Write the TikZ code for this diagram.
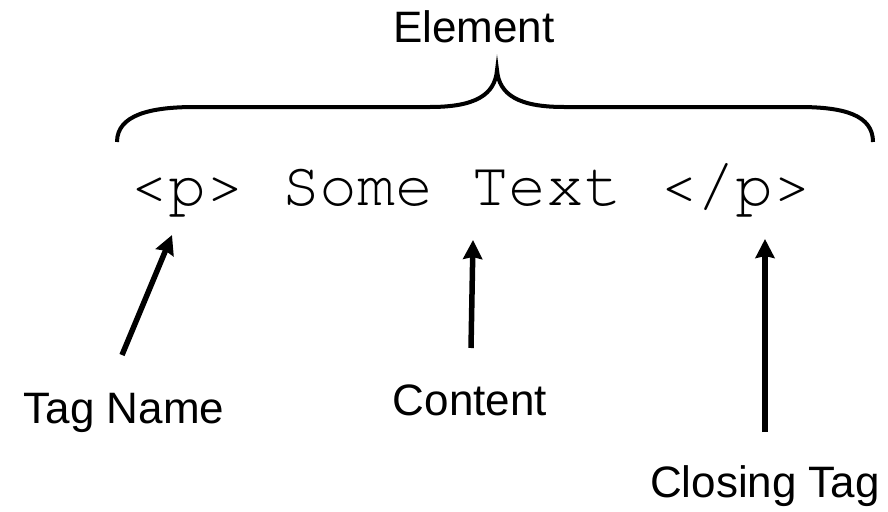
\documentclass[tikz,border=0pt]{standalone}
\usepackage{fontspec}
\setmainfont{Liberation Sans}
\setmonofont{texgyrecursor-regular.otf}
\usetikzlibrary{arrows.meta}

\begin{document}
\begin{tikzpicture}[x=1pt,y=-1pt,
        caption/.style={anchor=base,inner sep=0pt,font=\fontsize{44}{52}\selectfont},
        markup/.style={anchor=base,inner sep=0pt,font=\fontsize{63}{70}\selectfont\ttfamily},
        pointer/.style={line width=5.5pt,-{Stealth[length=19pt,width=19pt,inset=2pt]}}]
        \useasboundingbox (0,0) rectangle (888,511);
        % brace and its label
        \node[caption] (element) at (474,43) {Element};
        \draw[line width=4pt] (117,142) .. controls (117,115) and (150,107) .. (195,107)
            -- (430,107) .. controls (475,107) and (495,95) .. (497,70)
            .. controls (499,95) and (519,107) .. (564,107)
            -- (799,107) .. controls (844,107) and (873,115) .. (873,142);
        % the markup line
        \node[markup] (code) at (471,205) {<p> Some Text </p>};
        % labels below
        \node[caption] (tagname) at (124,423) {Tag Name};
        \node[caption] (content) at (470,415) {Content};
        \node[caption] (closing) at (765,497) {Closing Tag};
        \coordinate (tagfoot) at (122,355);
        \coordinate (tagtip) at (172,235);
        \coordinate (contentfoot) at (471,348);
        \coordinate (contenttip) at (473,240);
        \coordinate (closingfoot) at (765,432);
        \coordinate (closingtip) at (765,239);
        \draw[pointer] (tagfoot) -- (tagtip);
        \draw[pointer] (contentfoot) -- (contenttip);
        \draw[pointer] (closingfoot) -- (closingtip);
\end{tikzpicture}
\end{document}
